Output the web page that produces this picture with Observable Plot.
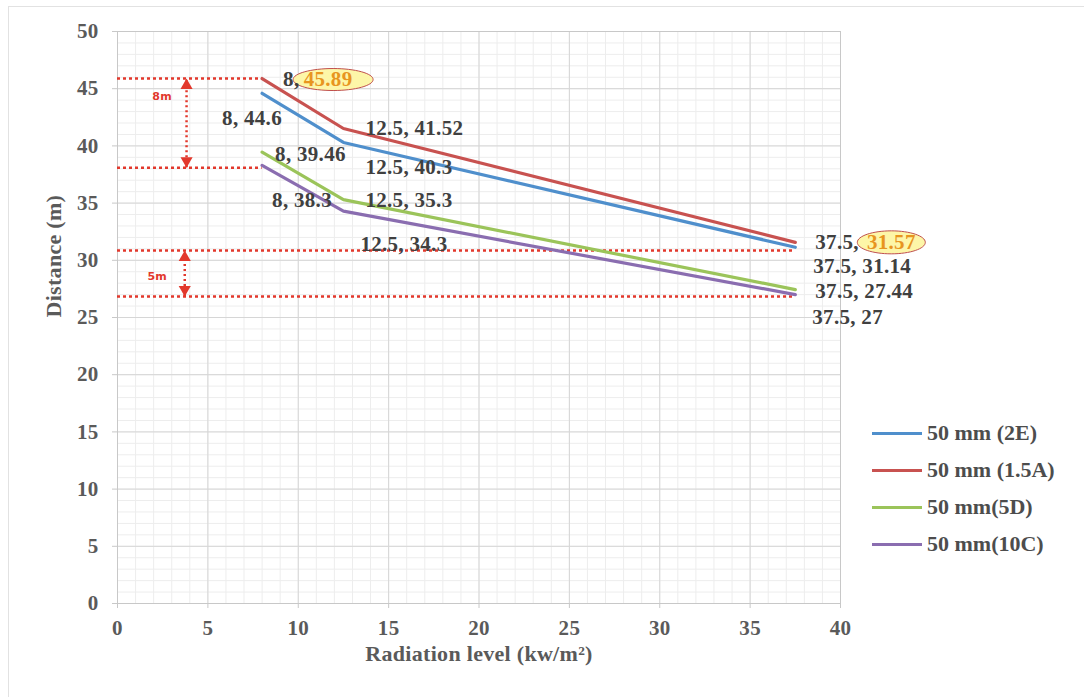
<!DOCTYPE html>
<html>
<head>
<meta charset="utf-8">
<script src="https://cdn.jsdelivr.net/npm/d3@7"></script>
<script src="https://cdn.jsdelivr.net/npm/@observablehq/plot@0.6"></script>
<style>
  html, body { margin: 0; padding: 0; background: #fff; overflow: hidden; }
  #wrap { position: relative; width: 1084px; height: 697px; }
  #border { position: absolute; left: 8px; top: 6px; width: 1100px; height: 720px; border: 1px solid #e2e2e2; box-sizing: border-box; }
  #chart { position: absolute; left: 0; top: 0; }
  #legend { position: absolute; left: 0; top: 0; font-family: "Liberation Serif", serif; font-weight: bold; font-size: 22px; color: #4d4d4d; }
  .item { position: absolute; left: 872px; height: 26px; display: flex; align-items: center; white-space: nowrap; }
  .swatch { width: 50px; height: 3px; margin-right: 5px; }
</style>
</head>
<body>
<div id="wrap">
  <div id="border"></div>
  <div id="chart"></div>
  <div id="legend"></div>
</div>
<script>
// ---- data ----
const xValues = [8, 12.5, 37.5];
const seriesNames = ["50 mm (2E)", "50 mm (1.5A)", "50 mm(5D)", "50 mm(10C)"];
const values2E = [44.6, 40.3, 31.14];
const values15A = [45.89, 41.52, 31.57];
const values5D = [39.46, 35.3, 27.44];
const values10C = [38.3, 34.3, 27];
const seriesColors = ["#4f8fcc", "#c85250", "#9bc45a", "#8a6db0"];
const xTicks = [0, 5, 10, 15, 20, 25, 30, 35, 40];
const yTicks = [0, 5, 10, 15, 20, 25, 30, 35, 40, 45, 50];
const upperRefY = [45.89, 38.1];   // 8 m band
const lowerRefY = [30.86, 26.84];  // 5 m band
const upperGapLabel = "8m";
const lowerGapLabel = "5m";
const xTitle = "Radiation level (kw/m\u00B2)";
const yTitle = "Distance (m)";

// ---- build table ----
const seriesValues = [values2E, values15A, values5D, values10C];
const rows = [];
seriesNames.forEach((s, i) => xValues.forEach((x, j) => rows.push({series: s, x, y: seriesValues[i][j], si: i, pj: j})));

// label offsets (pixels) per series / point
const labelOffsets = [
  [[-40, 25], [22, 25], [18, 19]],
  [[21, 1], [22, 0], [20, 0]],
  [[13, 2], [22, 1], [20, 2]],
  [[10, 35], [17, 33], [17, 23]]
];
// highlighted (ellipse) labels: series 1 (1.5A), points 0 and 2
const highlight = {"1-0": {ex: 71, tx: 66, rx: 40, ry: 11}, "1-2": {ex: 96, tx: 96, rx: 34, ry: 11.5}};

function ellipseSymbol(rx, ry) {
  const k = 0.5523;
  return {draw(ctx) {
    ctx.moveTo(rx, 0);
    ctx.bezierCurveTo(rx, ry * k, rx * k, ry, 0, ry);
    ctx.bezierCurveTo(-rx * k, ry, -rx, ry * k, -rx, 0);
    ctx.bezierCurveTo(-rx, -ry * k, -rx * k, -ry, 0, -ry);
    ctx.bezierCurveTo(rx * k, -ry, rx, -ry * k, rx, 0);
    ctx.closePath();
  }};
}

const red = "#e2382c";
const minorX = d3.range(0, 41, 1);
const minorY = d3.range(0, 51, 1);
const serif = "Liberation Serif";

const marks = [
  Plot.ruleX(minorX, {stroke: "#ededed", strokeWidth: 1}),
  Plot.ruleY(minorY, {stroke: "#ededed", strokeWidth: 1}),
  Plot.ruleX(xTicks, {stroke: "#d6d6d6", strokeWidth: 1}),
  Plot.ruleY(yTicks, {stroke: "#d6d6d6", strokeWidth: 1}),
  Plot.frame({stroke: "#c8c8c8"}),
  Plot.axisX({ticks: xTicks, tickSize: 5, tickPadding: 12, stroke: "#c8c8c8", fill: "#5a5a5a", fontSize: 21, fontWeight: "bold", fontFamily: serif, label: null}),
  Plot.axisY({ticks: yTicks, tickSize: 5, tickPadding: 14, stroke: "#c8c8c8", fill: "#5a5a5a", fontSize: 21, fontWeight: "bold", fontFamily: serif, label: null}),
  // reference dotted lines
  Plot.ruleY(upperRefY, {x1: 0, x2: xValues[0], stroke: red, strokeWidth: 2.5, strokeDasharray: "3,3"}),
  Plot.ruleY(lowerRefY, {x1: 0, x2: xValues[2], stroke: red, strokeWidth: 2.5, strokeDasharray: "3,3"}),
  Plot.ruleX([3.82], {y1: upperRefY[1], y2: upperRefY[0], stroke: red, strokeWidth: 2.5, strokeDasharray: "2,3"}),
  Plot.ruleX([3.72], {y1: lowerRefY[1], y2: lowerRefY[0], stroke: red, strokeWidth: 2.5, strokeDasharray: "2,3"}),
  Plot.dot([{x: 3.82, y: upperRefY[0]}, {x: 3.72, y: lowerRefY[0]}], {x: "x", y: "y", symbol: "triangle", r: 4.5, fill: red, stroke: null, dy: 7}),
  Plot.dot([{x: 3.82, y: upperRefY[1]}, {x: 3.72, y: lowerRefY[1]}], {x: "x", y: "y", symbol: "triangle", r: 4.5, fill: red, stroke: null, rotate: 180, dy: -7}),
  Plot.text([upperGapLabel], {x: 2.47, y: 44.3, fill: red, fontSize: 11, fontWeight: "bold", fontFamily: "DejaVu Sans"}),
  Plot.text([lowerGapLabel], {x: 2.2, y: 28.6, fill: red, fontSize: 11, fontWeight: "bold", fontFamily: "DejaVu Sans"}),
  // series lines
  Plot.line(rows, {x: "x", y: "y", z: "series", stroke: "series", strokeWidth: 3.2, strokeLinejoin: "round"}),
  // axis titles
  Plot.text([yTitle], {frameAnchor: "left", dx: -64, rotate: -90, fill: "#5a5a5a", fontSize: 22, fontWeight: "bold", fontFamily: serif}),
  Plot.text([xTitle], {frameAnchor: "bottom", dy: 57, fill: "#5a5a5a", fontSize: 22, fontWeight: "bold", fontFamily: serif})
];

// data labels
rows.forEach(r => {
  const key = `${r.si}-${r.pj}`;
  const [dx, dy] = labelOffsets[r.si][r.pj];
  const h = highlight[key];
  if (h) {
    marks.push(Plot.dot([r], {x: "x", y: "y", symbol: ellipseSymbol(h.rx, h.ry), r: 10, fill: "#fdf6a8", stroke: "#c0504d", strokeWidth: 1, dx: h.ex, dy}));
    marks.push(Plot.text([r], {x: "x", y: "y", text: d => `${d.x},`, dx, dy, textAnchor: "start", lineAnchor: "middle", fill: "#404040", fontSize: 21, fontWeight: "bold", fontFamily: serif}));
    marks.push(Plot.text([r], {x: "x", y: "y", text: d => `${d.y}`, dx: h.tx, dy, textAnchor: "middle", lineAnchor: "middle", fill: "#e8951f", fontSize: 21, fontWeight: "bold", fontFamily: serif}));
  } else {
    marks.push(Plot.text([r], {x: "x", y: "y", text: d => `${d.x}, ${d.y}`, dx, dy, textAnchor: "start", lineAnchor: "middle", fill: "#404040", fontSize: 21, fontWeight: "bold", fontFamily: serif}));
  }
});

const chart = Plot.plot({
  width: 1084,
  height: 697,
  marginLeft: 117,
  marginRight: 244,
  marginTop: 31,
  marginBottom: 94,
  x: {domain: [0, 40], axis: null},
  y: {domain: [0, 50], axis: null},
  color: {domain: seriesNames, range: seriesColors},
  style: {fontFamily: serif, letterSpacing: "0.3px", background: "transparent", overflow: "visible"},
  marks
});
document.getElementById("chart").appendChild(chart);

// legend
const legendTops = [433, 470, 507, 544];
const legend = document.getElementById("legend");
seriesNames.forEach((s, i) => {
  const item = document.createElement("div");
  item.className = "item";
  item.style.top = (legendTops[i] - 13) + "px";
  item.innerHTML = `<div class="swatch" style="background:${seriesColors[i]}"></div><span>${s}</span>`;
  legend.appendChild(item);
});
</script>
</body>
</html>
